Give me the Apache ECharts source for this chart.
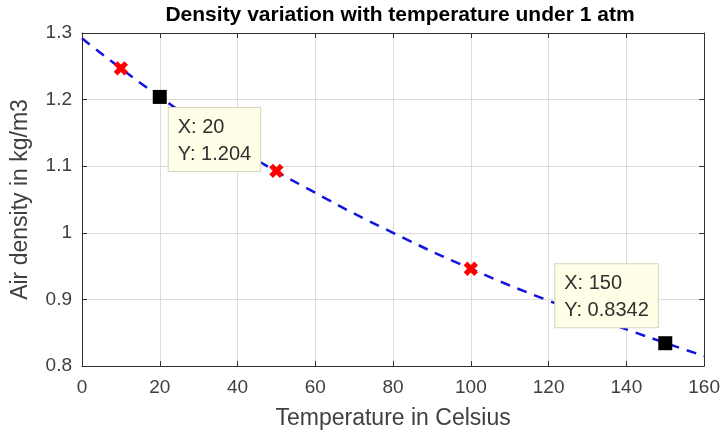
<!DOCTYPE html>
<html>
<head>
<meta charset="utf-8">
<style>
  html, body { margin: 0; padding: 0; background: #fff; }
  #chart { width: 723px; height: 435px; }
</style>
<script src="https://cdn.jsdelivr.net/npm/echarts@6/dist/echarts.min.js"></script>
</head>
<body>
<div id="chart"></div>
<script>
// Fitted density curve (temperature °C, density kg/m3)
var curveT = [0, 20, 40, 60, 80, 100, 120, 140, 160];
var curveRho = [1.292, 1.204, 1.127, 1.060, 1.000, 0.946, 0.898, 0.855, 0.815];

// Measured samples
var sampleT = [10, 50, 100];
var sampleRho = [1.247, 1.093, 0.946];

// Highlighted data tips
var tipT = [20, 150];
var tipRho = [1.204, 0.8342];
var tipOffsets = [[16, 18], [-103, -72]];

var xTicks = [0, 20, 40, 60, 80, 100, 120, 140, 160];
var yTicks = [0.8, 0.9, 1.0, 1.1, 1.2, 1.3];

var font = '"Liberation Sans", Arial, Helvetica, sans-serif';
var axisColor = '#303030';
var gridColor = '#dcdcdc';

var chart = echarts.init(document.getElementById('chart'));

function zip(a, b) { return a.map(function (v, i) { return [v, b[i]]; }); }

// Thick plus sign, rotated 45° to form an "x" marker
var crossPath = 'path://M2.6,0H5.4V2.6H8V5.4H5.4V8H2.6V5.4H0V2.6H2.6Z';

function baseX(pos, showLabel) {
  return {
    type: 'value', position: pos, min: xTicks[0], max: xTicks[xTicks.length - 1], interval: 20,
    axisLine: { show: true, onZero: false, lineStyle: { color: axisColor, width: 1 } },
    axisTick: { show: true, inside: true, length: 5, lineStyle: { color: axisColor } },
    axisLabel: { show: showLabel, color: '#404040', fontFamily: font, fontSize: 19, margin: 12 },
    splitLine: { show: showLabel, lineStyle: { color: gridColor, width: 1 } }
  };
}
function baseY(pos, showLabel) {
  return {
    type: 'value', position: pos, min: yTicks[0], max: yTicks[yTicks.length - 1], interval: 0.1,
    axisLine: { show: true, onZero: false, lineStyle: { color: axisColor, width: 1 } },
    axisTick: { show: true, inside: true, length: 5, lineStyle: { color: axisColor } },
    axisLabel: {
      show: showLabel, color: '#404040', fontFamily: font, fontSize: 19, margin: 10,
      formatter: function (v) { return String(Math.round(v * 10) / 10); }
    },
    splitLine: { show: showLabel, lineStyle: { color: gridColor, width: 1 } }
  };
}

var xMain = baseX('bottom', true);
xMain.name = 'Temperature in Celsius';
xMain.nameLocation = 'middle';
xMain.nameGap = 41;
xMain.nameTextStyle = { color: '#404040', fontFamily: font, fontSize: 23 };

var yMain = baseY('left', true);
yMain.name = 'Air density in kg/m3';
yMain.nameLocation = 'middle';
yMain.nameGap = 50;
yMain.nameTextStyle = { color: '#404040', fontFamily: font, fontSize: 23 };

chart.setOption({
  animation: false,
  backgroundColor: '#ffffff',
  title: {
    text: 'Density variation with temperature under 1 atm',
    left: 395, top: 0, textAlign: 'center',
    textStyle: { color: '#000', fontFamily: font, fontSize: 21, fontWeight: 'bold' }
  },
  grid: { left: 82, right: 17, top: 33, bottom: 68 },
  xAxis: [xMain, baseX('top', false)],
  yAxis: [yMain, baseY('right', false)],
  series: [
    {
      type: 'line',
      data: zip(curveT, curveRho),
      smooth: true,
      symbol: 'none',
      lineStyle: { color: '#1414e0', width: 2.5, type: [10, 8] },
      z: 2
    },
    {
      type: 'scatter',
      data: zip(sampleT, sampleRho),
      symbol: crossPath,
      symbolRotate: 45,
      symbolSize: 15,
      itemStyle: { color: '#ff0000', opacity: 1 },
      z: 3
    },
    {
      type: 'scatter',
      data: zip(tipT, tipRho).map(function (p, i) {
        return {
          value: p,
          label: {
            show: true,
            position: tipOffsets[i],
            formatter: 'X: ' + tipT[i] + '\nY: ' + tipRho[i]
          }
        };
      }),
      symbol: 'rect',
      symbolSize: 14,
      itemStyle: { color: '#000', opacity: 1 },
      label: {
        color: '#303030', fontFamily: font, fontSize: 20, lineHeight: 27,
        backgroundColor: '#ffffe8', borderColor: '#d6d6c0', borderWidth: 1,
        padding: [6, 9, 3, 9], align: 'left', verticalAlign: 'top'
      },
      z: 4
    }
  ]
});
</script>
</body>
</html>
